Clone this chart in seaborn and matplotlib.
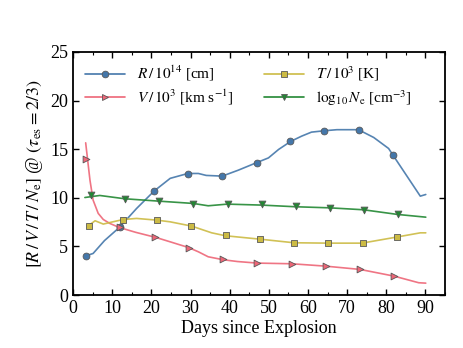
import matplotlib
matplotlib.use("Agg")
import matplotlib.pyplot as plt
from matplotlib.lines import Line2D
from matplotlib.ticker import MultipleLocator
import seaborn as sns

# line traces
r_days = [3.0, 5.1, 8.0, 11.8, 16.2, 20.7, 24.8, 29.3, 32.0, 34.0, 38.1, 42.2, 46.8, 49.9,
          52.5, 55.6, 58.4, 60.9, 64.4, 67.4, 72.9, 76.8, 80.6, 81.7, 88.7, 90.1]
r_vals = [4.0, 4.28, 5.6, 6.95, 8.9, 10.7, 12.0, 12.5, 12.5, 12.3, 12.23, 12.84, 13.6, 14.1,
          14.97, 15.8, 16.34, 16.75, 16.9, 17.0, 17.0, 16.2, 15.07, 14.4, 10.17, 10.34]

v_days = [3.2, 4.3, 5.1, 6.4, 7.7, 9.4, 11.8, 16.0, 21.2, 25.0, 29.4, 32.0, 34.5, 38.4,
          42.0, 47.0, 55.9, 64.4, 73.3, 82.0, 88.3, 90.1]
v_vals = [15.65, 11.8, 9.76, 8.4, 7.77, 7.36, 6.95, 6.45, 5.92, 5.45, 4.9, 4.45, 3.94, 3.63,
          3.45, 3.29, 3.22, 2.98, 2.64, 1.95, 1.27, 1.23]

t_days = [3.8, 5.6, 7.7, 9.8, 12.8, 16.2, 21.5, 24.8, 30.3, 35.4, 38.9, 47.7, 56.4, 65.0,
          73.8, 82.6, 88.7, 90.1]
t_vals = [7.1, 7.64, 7.3, 7.5, 7.77, 7.88, 7.7, 7.53, 7.09, 6.4, 6.1, 5.75, 5.38, 5.34,
          5.34, 5.96, 6.4, 6.4]

n_days = [3.0, 6.8, 13.2, 21.8, 30.7, 34.5, 39.4, 48.2, 56.8, 65.5, 74.2, 82.9, 90.1]
n_vals = [10.03, 10.24, 9.9, 9.66, 9.42, 9.18, 9.35, 9.25, 9.08, 8.97, 8.77, 8.29, 8.01]

# marker positions (each series slightly offset in time)
r_mk_days = [3.2, 11.9, 20.6, 29.4, 38.1, 46.9, 55.5, 64.2, 73.0, 81.7]
r_mk_vals = [4.04, 7.0, 10.75, 12.47, 12.23, 13.56, 15.8, 16.9, 17.0, 14.4]
v_mk_days = [3.4, 11.9, 20.9, 29.7, 38.4, 47.1, 55.9, 64.6, 73.4, 82.1]
v_mk_vals = [13.94, 6.95, 6.0, 4.86, 3.66, 3.29, 3.22, 2.98, 2.64, 1.95]
t_mk_days = [4.0, 12.8, 21.5, 30.2, 39.0, 47.7, 56.5, 65.2, 74.0, 82.7]
t_mk_vals = [7.09, 7.7, 7.77, 7.12, 6.13, 5.72, 5.38, 5.34, 5.38, 5.96]
n_mk_days = [4.5, 13.2, 22.0, 30.7, 39.5, 48.2, 56.9, 65.7, 74.4, 83.1]
n_mk_vals = [10.3, 9.9, 9.66, 9.38, 9.35, 9.32, 9.11, 8.97, 8.77, 8.32]

labels = [
    r"$R\,/\,10^{14}$ [cm]",
    r"$V\,/\,10^{3}$ [km s$^{-1}$]",
    r"$T\,/\,10^{3}$ [K]",
    r"$\log_{10}N_{\rm e}$ [cm$^{-3}$]",
]
colors = ["#4477AA", "#EE6677", "#CCBB44", "#228833"]
markers = ["o", ">", "s", "v"]

sns.set_style("ticks", {"axes.edgecolor": "black", "xtick.color": "black",
                        "ytick.color": "black", "text.color": "black",
                        "axes.labelcolor": "black"})
plt.rcParams["font.family"] = ["Liberation Serif", "DejaVu Serif"]
plt.rcParams["mathtext.fontset"] = "stix"
plt.rcParams["xtick.direction"] = "in"
plt.rcParams["ytick.direction"] = "in"

fig = plt.figure(figsize=(4.63, 3.48), dpi=100)
ax = fig.add_axes([0.158, 0.152, 0.803, 0.699])

series = [
    (r_days, r_vals, r_mk_days, r_mk_vals),
    (v_days, v_vals, v_mk_days, v_mk_vals),
    (t_days, t_vals, t_mk_days, t_mk_vals),
    (n_days, n_vals, n_mk_days, n_mk_vals),
]
handles = []
for (xd, yd, xm, ym), lab, col, mk in zip(series, labels, colors, markers):
    sns.lineplot(x=xd, y=yd, ax=ax, color=col, lw=1.2, alpha=0.9, sort=False,
                 estimator=None, legend=False)
    sns.scatterplot(x=xm, y=ym, ax=ax, color=col, marker=mk, s=24,
                    edgecolor="0.35", linewidth=0.6, legend=False, zorder=3)
    handles.append(Line2D([], [], color=col, lw=1.2, marker=mk, markersize=4.8,
                          markeredgecolor="0.35", markeredgewidth=0.6, label=lab))

ax.set_xlim(0, 95)
ax.set_ylim(0, 25)
ax.xaxis.set_major_locator(MultipleLocator(10))
ax.xaxis.set_minor_locator(MultipleLocator(5))
ax.yaxis.set_major_locator(MultipleLocator(5))
ax.tick_params(which="both", top=True, right=True, labelsize=13, colors="black")
ax.tick_params(which="major", length=4, width=1)
ax.tick_params(which="minor", length=2.5, width=0.8)
for sp in ax.spines.values():
    sp.set_linewidth(1.3)
    sp.set_color("black")

ax.set_xlabel("Days since Explosion", fontsize=13, labelpad=2)
ax.set_ylabel(r"$[R\,/\,V\,/\,T\,/\,N_{\rm e}]$ @ $(\tau_{\rm es}=2/3)$", fontsize=13)
ax.legend(handles=handles, ncol=2, loc="upper left", frameon=False, fontsize=11,
          handlelength=2.6, columnspacing=2.0, borderaxespad=0.4, labelspacing=0.3)

fig.savefig("out.png", dpi=100)
